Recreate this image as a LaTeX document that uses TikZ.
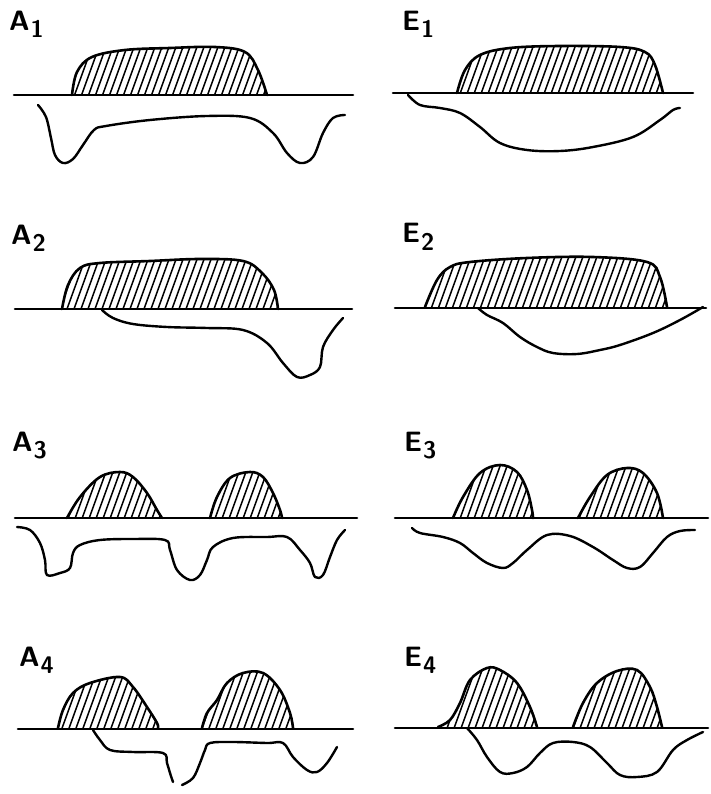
\documentclass[tikz,border=0pt]{standalone}
\usepackage{tikz}

% hatched hump: clip to the outline, fill with slanted strokes, then draw the outline
\newcommand{\hump}[1]{%
  \begin{scope}
    \clip plot[smooth, tension=0.6] coordinates {#1} -- cycle;
    \foreach \x in {-300,-293,...,720}
      \draw[hatch] (\x,800) -- ++(290,-800);
  \end{scope}
  \draw[outline] plot[smooth, tension=0.6] coordinates {#1};
}

\begin{document}
\begin{tikzpicture}[x=1pt, y=-1pt, line cap=round, line join=round]

	\tikzset{
		ground/.style={line width=2.6pt},
		outline/.style={line width=2.6pt},
		hatch/.style={line width=1.5pt},
		trace/.style={line width=2.4pt, smooth, tension=0.6},
		tag/.style={anchor=base west, inner sep=0pt, font=\fontsize{28}{30}\sffamily\bfseries},
	}
	\newcommand{\sub}[1]{\kern1pt\raisebox{-7pt}{\fontsize{24}{26}\selectfont #1}}

	\useasboundingbox (0,0) rectangle (710,794);

	% ---- A1 ----
	\node[tag] (labA1) at (9,31) {A\sub{1}};
	\hump{(72,95) (77,72) (92,57) (125,50) (170,48) (215,47) (245,52) (258,70) (267,95)}
	\draw[ground] (14,95) -- (353,95);
	\draw[trace] plot coordinates {(38,105) (46,117) (51,138) (55,155) (63,163) (73,159) (83,145) (94,130) (106,126) (150,120) (207,116) (250,118) (273,133) (287,153) (300,163) (313,157) (323,133) (333,118) (345,115)};

	% ---- E1 ----
	\node[tag] (labE1) at (402,31) {E\sub{1}};
	\hump{(457,93) (465,70) (480,55) (510,48) (560,46) (620,47) (645,52) (655,65) (663,93)}
	\draw[ground] (393,93) -- (693,93);
	\draw[trace] plot coordinates {(408,95) (420,105) (440,108) (460,113) (480,127) (500,143) (527,150) (560,151) (593,147) (633,137) (660,120) (673,110) (680,108)};

	% ---- A2 ----
	\node[tag] (labA2) at (11,244) {A\sub{2}};
	\hump{(62,309) (68,285) (80,268) (100,263) (150,261) (200,259) (243,261) (262,273) (274,290) (278,309)}
	\draw[ground] (15,309) -- (352,309);
	\draw[trace] plot coordinates {(102,310) (113,318) (133,324) (167,327) (207,328) (243,330) (267,343) (283,363) (297,377) (310,375) (320,367) (323,347) (333,330) (343,318)};

	% ---- E2 ----
	\node[tag] (labE2) at (402,243) {E\sub{2}};
	\hump{(425,307) (437,280) (450,267) (470,262) (527,258) (593,257) (647,262) (660,277) (667,307)}
	\draw[ground] (395,308) -- (706,308);
	\draw[trace] plot coordinates {(478,308) (487,315) (503,323) (520,337) (537,347) (553,353) (577,354) (600,350) (620,345) (653,333) (680,320) (703,307)};

	% ---- A3 ----
	\node[tag] (labA3) at (12,451) {A\sub{3}};
	\hump{(67,518) (80,497) (100,477) (120,472) (133,477) (147,493) (157,510) (162,518)}
	\hump{(210,518) (217,497) (230,478) (250,472) (263,477) (273,493) (280,510) (282,518)}
	\draw[ground] (15,518) -- (357,518);
	\draw[trace] plot coordinates {(17,527) (30,530) (40,543) (45,560) (47,575) (60,573) (70,568) (73,553) (80,545) (100,540) (133,539) (165,540) (170,550) (177,570) (190,580) (200,575) (207,560) (213,547) (233,538) (267,537) (287,537) (300,550) (310,563) (315,577) (323,575) (330,557) (337,540) (345,530)};

	% ---- E3 ----
	\node[tag] (labE3) at (404,451) {E\sub{3}};
	\hump{(453,518) (463,497) (480,473) (500,465) (517,472) (527,490) (532,510) (533,518)}
	\hump{(578,518) (590,497) (607,475) (627,468) (643,473) (657,493) (663,518)}
	\draw[ground] (395,518) -- (708,518);
	\draw[trace] plot coordinates {(412,528) (420,533) (443,537) (460,543) (473,553) (487,563) (503,568) (513,563) (527,550) (547,535) (570,536) (593,547) (613,560) (627,568) (640,567) (653,553) (667,537) (680,531) (695,530)};

	% ---- A4 ----
	\node[tag] (labA4) at (19,666) {A\sub{4}};
	\hump{(58,728) (63,710) (73,693) (90,683) (120,677) (133,687) (147,707) (157,723) (158,728)}
	\hump{(202,728) (207,713) (217,700) (227,683) (243,673) (263,673) (280,690) (290,713) (293,728)}
	\draw[ground] (18,729) -- (353,729);
	\draw[trace] plot coordinates {(93,730) (100,740) (110,750) (133,752) (163,753) (167,763) (170,773) (173,782)};
	\draw[trace] plot coordinates {(182,785) (193,778) (200,763) (205,750) (210,743) (233,742) (267,743) (283,743) (293,757) (307,770) (317,772) (327,763) (337,747)};

	% ---- E4 ----
	\node[tag] (labE4) at (404,666) {E\sub{4}};
	\hump{(438,727) (450,720) (460,703) (470,680) (487,668) (500,670) (517,683) (530,707) (537,727)}
	\hump{(573,727) (583,703) (597,683) (617,671) (637,670) (650,687) (657,707) (662,727)}
	\draw[ground] (395,728) -- (708,728);
	\draw[trace] plot coordinates {(467,728) (477,740) (487,757) (500,772) (513,773) (527,767) (540,753) (553,743) (573,742) (590,747) (607,763) (620,775) (637,777) (657,772) (673,750) (687,740) (703,732)};

\end{tikzpicture}
\end{document}
